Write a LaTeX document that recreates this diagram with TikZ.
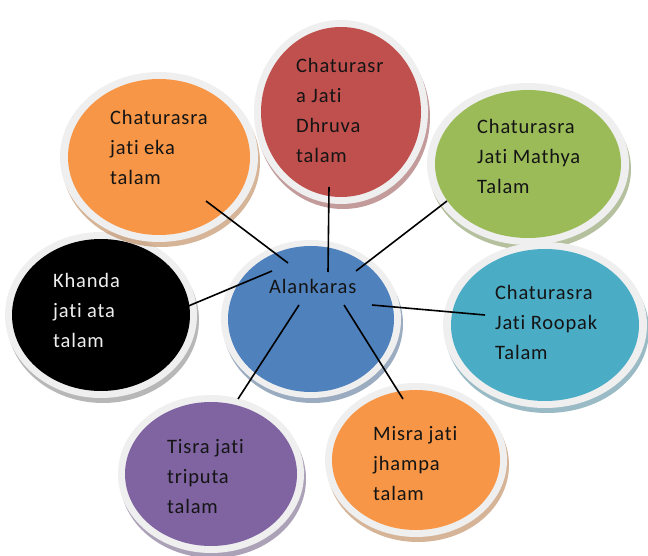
\documentclass[tikz,border=0pt]{standalone}
\usepackage{fontspec}
\setmainfont{Carlito}
\newfontfamily\lblfont[LetterSpace=4, Ligatures={NoCommon}]{Carlito}

\definecolor{ringgray}{HTML}{EFEFEF}
\definecolor{orangeC}{HTML}{F79646}
\definecolor{redC}{HTML}{C0504D}
\definecolor{greenC}{HTML}{9BBB59}
\definecolor{blueC}{HTML}{4F81BD}
\definecolor{cyanC}{HTML}{4BACC6}
\definecolor{purpleC}{HTML}{8064A2}
\definecolor{inkC}{HTML}{141414}
\definecolor{shadeC}{HTML}{A0A0A0}

\tikzset{
  drop/.style={fill=#1!70!black, opacity=0.5, shift={(2,5)}},
  ring/.style={fill=ringgray},
  talabox/.style={font=\lblfont\fontsize{20.5}{30}\selectfont, text=inkC,
    align=left, anchor=base west, inner sep=0pt},
  link/.style={draw=black, line width=1.6pt}
}

\begin{document}
\begin{tikzpicture}[x=1pt,y=-1pt]
                  \useasboundingbox (0,0) rectangle (648,556);

                  % black, left
                  \fill[drop=shadeC] (101,315) ellipse[x radius=96, y radius=83];
                  \fill[ring] (101,315) ellipse[x radius=96, y radius=83];
                  \fill[black] (101,315) ellipse[x radius=89, y radius=76];

                  % orange, top left
                  \fill[drop=orangeC] (159,157) ellipse[x radius=99, y radius=85];
                  \fill[ring] (159,157) ellipse[x radius=99, y radius=85];
                  \fill[orangeC] (159,157) ellipse[x radius=91, y radius=78];

                  % red, top
                  \fill[drop=redC] (341,112) ellipse[x radius=87, y radius=92];
                  \fill[ring] (341,112) ellipse[x radius=87, y radius=92];
                  \fill[redC] (341,112) ellipse[x radius=80, y radius=85];

                  % green, top right
                  \fill[drop=greenC] (528,164) ellipse[x radius=101, y radius=81];
                  \fill[ring] (528,164) ellipse[x radius=101, y radius=81];
                  \fill[greenC] (528,164) ellipse[x radius=93, y radius=74];

                  % cyan, right
                  \fill[drop=cyanC] (545,325) ellipse[x radius=102, y radius=83];
                  \fill[ring] (545,325) ellipse[x radius=102, y radius=83];
                  \fill[cyanC] (545,325) ellipse[x radius=94, y radius=76];

                  % centre
                  \fill[drop=blueC] (311,319) ellipse[x radius=90, y radius=79];
                  \fill[ring] (311,319) ellipse[x radius=90, y radius=79];
                  \fill[blueC] (311,319) ellipse[x radius=83, y radius=73];

                  % purple, bottom left
                  \fill[drop=purpleC] (211,474) ellipse[x radius=93, y radius=79];
                  \fill[ring] (211,474) ellipse[x radius=93, y radius=79];
                  \fill[purpleC] (211,474) ellipse[x radius=86, y radius=72];

                  % orange, bottom
                  \fill[drop=orangeC] (416,460) ellipse[x radius=91, y radius=77];
                  \fill[ring] (416,460) ellipse[x radius=91, y radius=77];
                  \fill[orangeC] (416,460) ellipse[x radius=84, y radius=70];

                  % base = last line
                  \node[talabox] (alank) at (269,294) {Alankaras};
                  \node[talabox] (eka) at (110,185) {Chaturasra\\jati eka\\talam};
                  \node[talabox] (dhruva) at (296,163) {Chaturasr\\a Jati\\Dhruva\\talam};
                  \node[talabox] (mathya) at (477,194) {Chaturasra\\Jati Mathya\\Talam};
                  \node[talabox, text=ringgray] (ata) at (53,347) {Khanda\\jati ata\\talam};
                  \node[talabox] (roopak) at (495,359) {Chaturasra\\Jati Roopak\\Talam};
                  \node[talabox] (triputa) at (167,513) {Tisra jati\\triputa\\talam};
                  \node[talabox] (jhampa) at (373,500) {Misra jati\\jhampa\\talam};

                  % line ends
                  \coordinate (ekaEnd) at (206,201);
                  \coordinate (dhruvaEnd) at (329,187);
                  \coordinate (mathyaEnd) at (447,201);
                  \coordinate (ataEnd) at (186,307);
                  \coordinate (roopakEnd) at (485,315);
                  \coordinate (triputaEnd) at (238,399);
                  \coordinate (jhampaEnd) at (403,399);
                  \coordinate (alankNW) at (288,263);
                  \coordinate (alankN) at (328,272);
                  \coordinate (alankNE) at (356,271);
                  \coordinate (alankW) at (272,271);
                  \coordinate (alankE) at (372,305);
                  \coordinate (alankSW) at (299,305);
                  \coordinate (alankSE) at (344,305);

                  \draw[link] (ekaEnd) -- (alankNW);
                  \draw[link] (dhruvaEnd) -- (alankN);
                  \draw[link] (mathyaEnd) -- (alankNE);
                  \draw[link] (ataEnd) -- (alankW);
                  \draw[link] (roopakEnd) -- (alankE);
                  \draw[link] (triputaEnd) -- (alankSW);
                  \draw[link] (jhampaEnd) -- (alankSE);
              \end{tikzpicture}
\end{document}
